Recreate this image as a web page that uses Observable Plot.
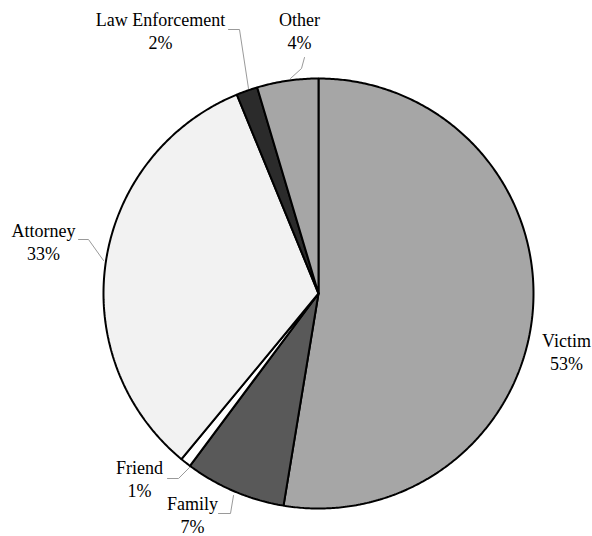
<!DOCTYPE html>
<html>
<head>
<meta charset="utf-8">
<script src="https://cdn.jsdelivr.net/npm/d3@7"></script>
<script src="https://cdn.jsdelivr.net/npm/@observablehq/plot@0.6"></script>
<style>
  html, body { margin: 0; padding: 0; background: #ffffff; }
  #chart svg, #chart svg text { font-family: "Liberation Serif", "Times New Roman", serif !important; }
</style>
</head>
<body>
<div id="chart"></div>
<script>
// ---- Data ----
const categories = ["Victim", "Family", "Friend", "Attorney", "Law Enforcement", "Other"];
const values = [52.6, 7.6, 0.8, 32.8, 1.6, 4.6];
const percentLabels = ["53%", "7%", "1%", "33%", "2%", "4%"];
const sliceColors = ["#a6a6a6", "#595959", "#ffffff", "#f2f2f2", "#2b2b2b", "#a6a6a6"];

// ---- Layout (pixels) ----
const W = 592, H = 536, CX = 318, CY = 293, R = 215;
const labelPx = {
  "Victim": [566, 351],
  "Family": [192, 514],
  "Friend": [139, 478],
  "Attorney": [43, 241],
  "Law Enforcement": [160, 30],
  "Other": [299, 30]
};
const leaderPx = {
  "Family": [[218, 513], [230, 513], [233, 495]],
  "Friend": [[167, 478], [178, 478], [189, 467]],
  "Attorney": [[78, 239], [88, 239], [103, 260]],
  "Law Enforcement": [[228, 29], [239, 29], [248, 88]],
  "Other": [[304, 57], [301, 68], [290, 78]]
};
const toU = px => (px - CX) / R;
const toV = py => (CY - py) / R;

// ---- Build slice polygons from values ----
const total = d3.sum(values);
const slicePts = [];
let acc = 0;
categories.forEach((cat, i) => {
  const a0 = acc / total * 2 * Math.PI;
  acc += values[i];
  const a1 = acc / total * 2 * Math.PI;
  const n = Math.max(2, Math.ceil((a1 - a0) / (Math.PI / 360)));
  slicePts.push({cat, u: 0, v: 0});
  for (let k = 0; k <= n; k++) {
    const a = a0 + (a1 - a0) * k / n;
    slicePts.push({cat, u: Math.sin(a), v: Math.cos(a)});
  }
  slicePts.push({cat, u: 0, v: 0});
});

const leaders = [];
Object.entries(leaderPx).forEach(([cat, pts]) => {
  pts.forEach(([px, py]) => leaders.push({cat, u: toU(px), v: toV(py)}));
});

const labels = categories.map((cat, i) => ({
  text: cat + "\n" + percentLabels[i],
  u: toU(labelPx[cat][0]),
  v: toV(labelPx[cat][1])
}));

const chart = Plot.plot({
  width: W,
  height: H,
  margin: 0,
  style: {background: "#ffffff", fontFamily: "Liberation Serif, serif"},
  x: {domain: [toU(0), toU(W)], axis: null},
  y: {domain: [toV(H), toV(0)], axis: null},
  color: {domain: categories, range: sliceColors},
  marks: [
    Plot.line(leaders, {x: "u", y: "v", z: "cat", stroke: "#9a9a9a", strokeWidth: 1}),
    Plot.line(slicePts, {x: "u", y: "v", z: "cat", fill: "cat", stroke: "#000000", strokeWidth: 2, strokeLinejoin: "miter", curve: "linear"}),
    Plot.text(labels, {x: "u", y: "v", text: "text", fontSize: 18, lineHeight: 1.28, fill: "#000000",
      fontFamily: "Liberation Serif, serif"})
  ]
});
document.getElementById("chart").appendChild(chart);
</script>
</body>
</html>
